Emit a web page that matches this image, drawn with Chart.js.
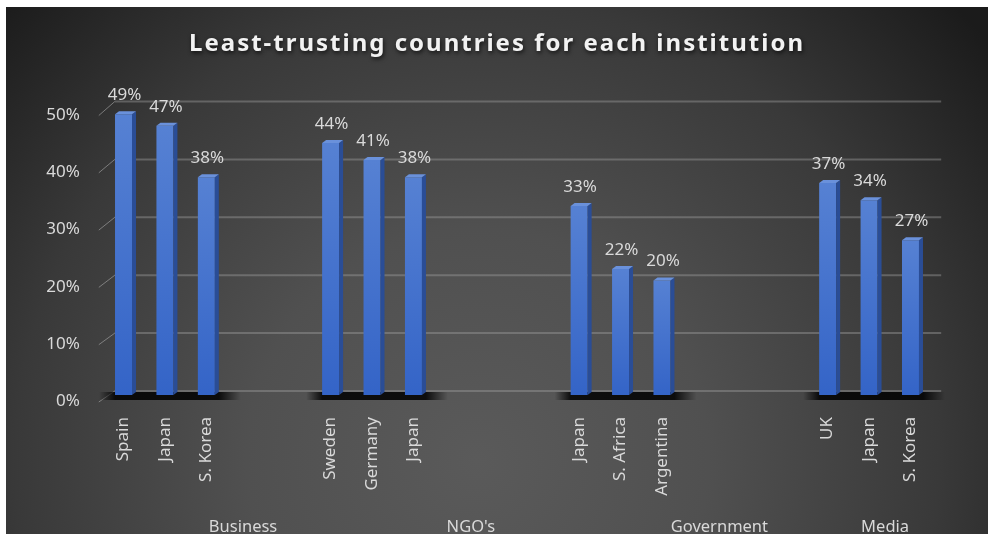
<!DOCTYPE html>
<html>
<head>
<meta charset="utf-8">
<title>Least-trusting countries for each institution</title>
<script src="https://cdn.jsdelivr.net/npm/chart.js@4.4.1/dist/chart.umd.min.js"></script>
<style>
  html, body { margin: 0; background: #fff; }
  #wrap { position: absolute; left: 6px; top: 7px; width: 982px; height: 527px; }
</style>
</head>
<body>
<div id="wrap"><canvas id="trustChart"></canvas></div>
<script>
// countries per slot, blanks keep the gaps between institutions
const countries = ['Spain', 'Japan', 'S. Korea', '', '', 'Sweden', 'Germany', 'Japan', '', '', '',
    'Japan', 'S. Africa', 'Argentina', '', '', '', 'UK', 'Japan', 'S. Korea'];
const distrust = [49, 47, 38, null, null, 44, 41, 38, null, null, null,
    33, 22, 20, null, null, null, 37, 34, 27];
const institutions = ['Business', "NGO's", 'Government', 'Media'];
const institutionStart = [0, 5, 11, 17];
const yTicks = [0, 10, 20, 30, 40, 50];

const FONT = "'Noto Sans', 'Open Sans', sans-serif";
const textGrey = '#d9d9d9';
const DX = 4, DY = -3;   // depth of the bar side / top faces

function frontFace(c) {
    const { chart, raw } = c;
    const { ctx, chartArea, scales } = chart;
    if (!chartArea || raw == null) return '#4472c4';
    const top = scales.y.getPixelForValue(raw);
    const g = ctx.createLinearGradient(0, top, 0, chartArea.bottom);
    g.addColorStop(0, '#5681d3');
    g.addColorStop(1, '#3464c7');
    return g;
}

const backdrop = {
    id: 'backdrop',
    beforeDraw(chart) {
        const { ctx, width, height } = chart;
        const cx = width * 0.48, cy = height * 0.86;
        const g = ctx.createRadialGradient(cx, cy, 0, cx, cy, 660);
        g.addColorStop(0, '#5a5a5a');
        g.addColorStop(0.35, '#505050');
        g.addColorStop(0.7, '#393939');
        g.addColorStop(1, '#1b1b1b');
        ctx.save();
        ctx.fillStyle = g;
        ctx.fillRect(0, 0, width, height);
        ctx.restore();
        // spaced, shadowed title (only the title layer is drawn before the bars)
        ctx.letterSpacing = '2px';
        ctx.shadowColor = 'rgba(0,0,0,0.7)';
        ctx.shadowBlur = 4;
        ctx.shadowOffsetX = 1;
        ctx.shadowOffsetY = 2;
    },
    beforeDatasetsDraw(chart) {
        const { ctx, chartArea: a, scales: { y } } = chart;
        ctx.letterSpacing = '0px';
        ctx.shadowColor = 'transparent';
        ctx.shadowBlur = 0;
        ctx.shadowOffsetX = 0;
        ctx.shadowOffsetY = 0;

        // back wall gridlines plus the little slanted ticks to the axis labels
        const lift = py => 4 + 3 * (a.bottom - py) / (a.bottom - a.top);
        ctx.save();
        yTicks.forEach(v => {
            const py = y.getPixelForValue(v);
            const wy = py - lift(py);
            ctx.strokeStyle = 'rgba(160,160,160,0.42)';
            ctx.lineWidth = 2;
            ctx.beginPath();
            ctx.moveTo(a.left + 12, wy);
            ctx.lineTo(a.right + 10, wy);
            ctx.stroke();
            ctx.strokeStyle = 'rgba(170,170,170,0.6)';
            ctx.lineWidth = 1;
            ctx.beginPath();
            ctx.moveTo(a.left - 4, py + 7);
            ctx.lineTo(a.left + 12, wy);
            ctx.stroke();
        });

        // dark floor shadow under each group of bars
        const meta = chart.getDatasetMeta(0);
        institutionStart.forEach((start, gi) => {
            const end = gi + 1 < institutionStart.length ? institutionStart[gi + 1] : distrust.length;
            const bars = [];
            for (let i = start; i < end; i++) if (distrust[i] != null) bars.push(meta.data[i]);
            if (!bars.length) return;
            const first = bars[0], last = bars[bars.length - 1];
            const x0 = first.x - first.width / 2 - 16;
            const x1 = last.x + last.width / 2 + 26;
            const w = x1 - x0;
            const g = ctx.createLinearGradient(x0, 0, x1, 0);
            g.addColorStop(0, 'rgba(0,0,0,0)');
            g.addColorStop(16 / w, 'rgba(0,0,0,0.85)');
            g.addColorStop(1 - 22 / w, 'rgba(0,0,0,0.85)');
            g.addColorStop(1, 'rgba(0,0,0,0)');
            ctx.fillStyle = g;
            ctx.fillRect(x0, a.bottom - 3, w, 8);
        });
        ctx.restore();
    },
    afterDatasetsDraw(chart) {
        const { ctx } = chart;
        const meta = chart.getDatasetMeta(0);
        ctx.save();
        meta.data.forEach((el, i) => {
            if (distrust[i] == null) return;
            const { x, y, base, width } = el.getProps(['x', 'y', 'base', 'width'], true);
            const l = x - width / 2, r = x + width / 2;
            ctx.fillStyle = '#2a4d96';
            ctx.beginPath();
            ctx.moveTo(r, y);
            ctx.lineTo(r + DX, y + DY);
            ctx.lineTo(r + DX, base + DY);
            ctx.lineTo(r, base);
            ctx.closePath();
            ctx.fill();
            ctx.fillStyle = '#6a91db';
            ctx.beginPath();
            ctx.moveTo(l, y);
            ctx.lineTo(l + DX, y + DY);
            ctx.lineTo(r + DX, y + DY);
            ctx.lineTo(r, y);
            ctx.closePath();
            ctx.fill();

            ctx.fillStyle = textGrey;
            ctx.font = `17px ${FONT}`;
            ctx.textAlign = 'center';
            ctx.textBaseline = 'alphabetic';
            ctx.fillText(distrust[i] + '%', x + 1, y - 14);
        });
        ctx.restore();
    },
    afterDraw(chart) {
        // institution names under the country labels
        const { ctx, height, scales: { x } } = chart;
        ctx.save();
        ctx.fillStyle = textGrey;
        ctx.font = `16.5px ${FONT}`;
        ctx.textAlign = 'center';
        ctx.textBaseline = 'middle';
        institutions.forEach((name, gi) => {
            const start = institutionStart[gi];
            const next = gi + 1 < institutions.length ? institutionStart[gi + 1] : distrust.length - 1;
            const cx = (x.getPixelForValue(start) + x.getPixelForValue(next)) / 2 + 16;
            ctx.fillText(name, cx, height - 7);
        });
        ctx.restore();
    }
};

new Chart(document.getElementById('trustChart'), {
    type: 'bar',
    data: {
        labels: countries,
        datasets: [{
            data: distrust,
            backgroundColor: frontFace,
            borderWidth: 0,
            barPercentage: 0.41,
            categoryPercentage: 1
        }]
    },
    options: {
        responsive: true,
        maintainAspectRatio: false,
        animation: false,
        plugins: {
            legend: { display: false },
            tooltip: { enabled: false },
            title: {
                display: true,
                text: 'Least-trusting countries for each institution',
                color: '#f2f2f2',
                font: { family: FONT, size: 24, weight: 'bold' },
                padding: { top: 22.6, bottom: 50.1 }
            }
        },
        scales: {
            x: {
                afterFit: s => { s.height = 139; },
                grid: { display: false, drawTicks: false },
                border: { display: false },
                ticks: {
                    z: 1, autoSkip: false, minRotation: 90, maxRotation: 90, padding: 22,
                    color: textGrey, font: { family: FONT, size: 17 }
                }
            },
            y: {
                min: 0,
                max: 50,
                afterFit: s => { s.width = 96.8; },
                afterBuildTicks: s => { s.ticks = yTicks.map(v => ({ value: v })); },
                grid: { display: false, drawTicks: false },
                border: { display: false },
                ticks: {
                    z: 1, padding: 23, labelOffset: 6.5,
                    color: textGrey, font: { family: FONT, size: 17 },
                    callback: v => v + '%'
                }
            },
            // empty right-hand axis: reserves the margin to the right of the floor
            yRight: {
                position: 'right',
                min: 0,
                max: 50,
                afterFit: s => { s.width = 56.8; },
                grid: { display: false, drawTicks: false },
                border: { display: false },
                ticks: { display: false }
            }
        }
    },
    plugins: [backdrop]
});
</script>
</body>
</html>
